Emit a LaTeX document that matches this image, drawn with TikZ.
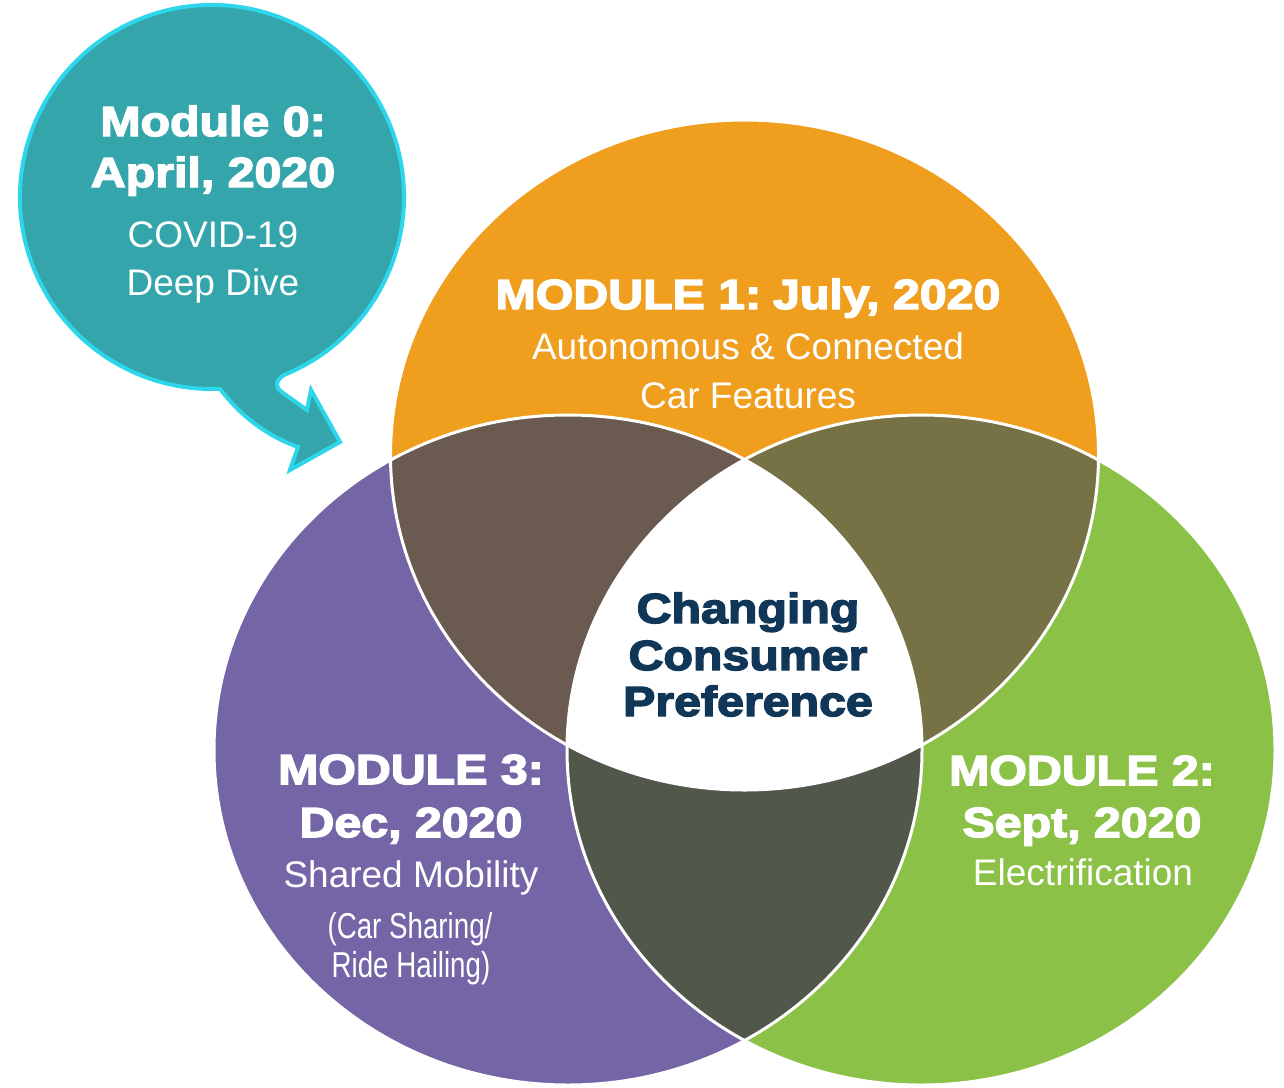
\documentclass[tikz,border=0pt]{standalone}
\usepackage{fontspec}
\newfontfamily\heavyfont{Liberation Sans Bold}[FakeBold=3.5,FakeStretch=1.15]
\newfontfamily\plainfont{Liberation Sans}
\newfontfamily\narrowfont{Liberation Sans}[FakeStretch=0.77]

\definecolor{orangefill}{RGB}{240,158,29}
\definecolor{purplefill}{RGB}{116,102,166}
\definecolor{greenfill}{RGB}{139,193,70}
\definecolor{brownfill}{RGB}{106,90,80}
\definecolor{olivefill}{RGB}{119,113,70}
\definecolor{darkfill}{RGB}{82,87,75}
\definecolor{tealfill}{RGB}{52,165,170}
\definecolor{cyanline}{RGB}{45,214,234}
\definecolor{navytext}{RGB}{17,55,88}

\tikzset{
  ringA/.style={insert path={(744.5,-455) ellipse [x radius=354, y radius=335]}},
  ringB/.style={insert path={(568,-750) ellipse [x radius=354, y radius=335]}},
  ringC/.style={insert path={(921,-750) ellipse [x radius=354, y radius=335]}},
  modtitle/.style={text=white, font=\heavyfont\fontsize{42}{48}\selectfont, anchor=base, inner sep=0pt},
  modsub/.style={text=white, font=\plainfont\fontsize{37}{44}\selectfont, anchor=base, inner sep=0pt},
  modnarrow/.style={text=white, font=\narrowfont\fontsize{36}{42}\selectfont, anchor=base, inner sep=0pt},
  coretext/.style={text=navytext, font=\heavyfont\fontsize{42}{48}\selectfont, anchor=base, inner sep=0pt}
}

\begin{document}
\begin{tikzpicture}[x=1pt,y=1pt]
\useasboundingbox (0,0) rectangle (1284,-1087);

% speech bubble
\draw[fill=tealfill, draw=cyanline, line width=4, line join=miter]
  (283.9,-375) arc [start angle=-68, end angle=272.4, radius=192]
  .. controls (240,-415) and (265,-435) .. (298,-447)
  -- (290,-470) -- (340,-442) -- (311,-390) -- (307,-410) -- (283,-393)
  .. controls (274,-387) and (276,-380) .. cycle;

% three circles
\fill[orangefill, ringA];
\fill[purplefill, ringB];
\fill[greenfill, ringC];
\begin{scope}
  \clip[ringA];
  \fill[brownfill, ringB];
  \fill[olivefill, ringC];
\end{scope}
\begin{scope}
  \clip[ringB];
  \fill[darkfill, ringC];
\end{scope}
\begin{scope}
  \clip[ringA];
  \clip[ringB];
  \fill[white, ringC];
\end{scope}
\draw[white, line width=3, ringA];
\draw[white, line width=3, ringB];
\draw[white, line width=3, ringC];

% module 0
\node[modtitle] (mzero-a) at (213,-136) {Module 0:};
\node[modtitle] (mzero-b) at (213,-187) {April, 2020};
\node[modsub] (mzero-c) at (213,-247) {COVID-19};
\node[modsub] (mzero-d) at (213,-295) {Deep Dive};

% module 1
\node[modtitle] (mone-a) at (748,-309) {MODULE 1:\kern-6pt{} July, 2020};
\node[modsub] (mone-b) at (748,-359) {Autonomous \& Connected};
\node[modsub] (mone-c) at (748,-408) {Car Features};

% module 2
\node[modtitle] (mtwo-a) at (1082,-785) {MODULE 2:};
\node[modtitle] (mtwo-b) at (1082,-837) {Sept, 2020};
\node[modsub] (mtwo-c) at (1083,-885) {Electrification};

% module 3
\node[modtitle] (mthree-a) at (411,-784) {MODULE 3:};
\node[modtitle] (mthree-b) at (411,-837) {Dec, 2020};
\node[modsub] (mthree-c) at (411,-887) {Shared Mobility};
\node[modnarrow] (mthree-d) at (410,-938) {(Car Sharing/};
\node[modnarrow] (mthree-e) at (411,-977) {Ride Hailing)};

% centre
\node[coretext] (core-a) at (748,-623) {Changing};
\node[coretext] (core-b) at (748,-670) {Consumer};
\node[coretext] (core-c) at (748,-716) {Preference};
\end{tikzpicture}
\end{document}
